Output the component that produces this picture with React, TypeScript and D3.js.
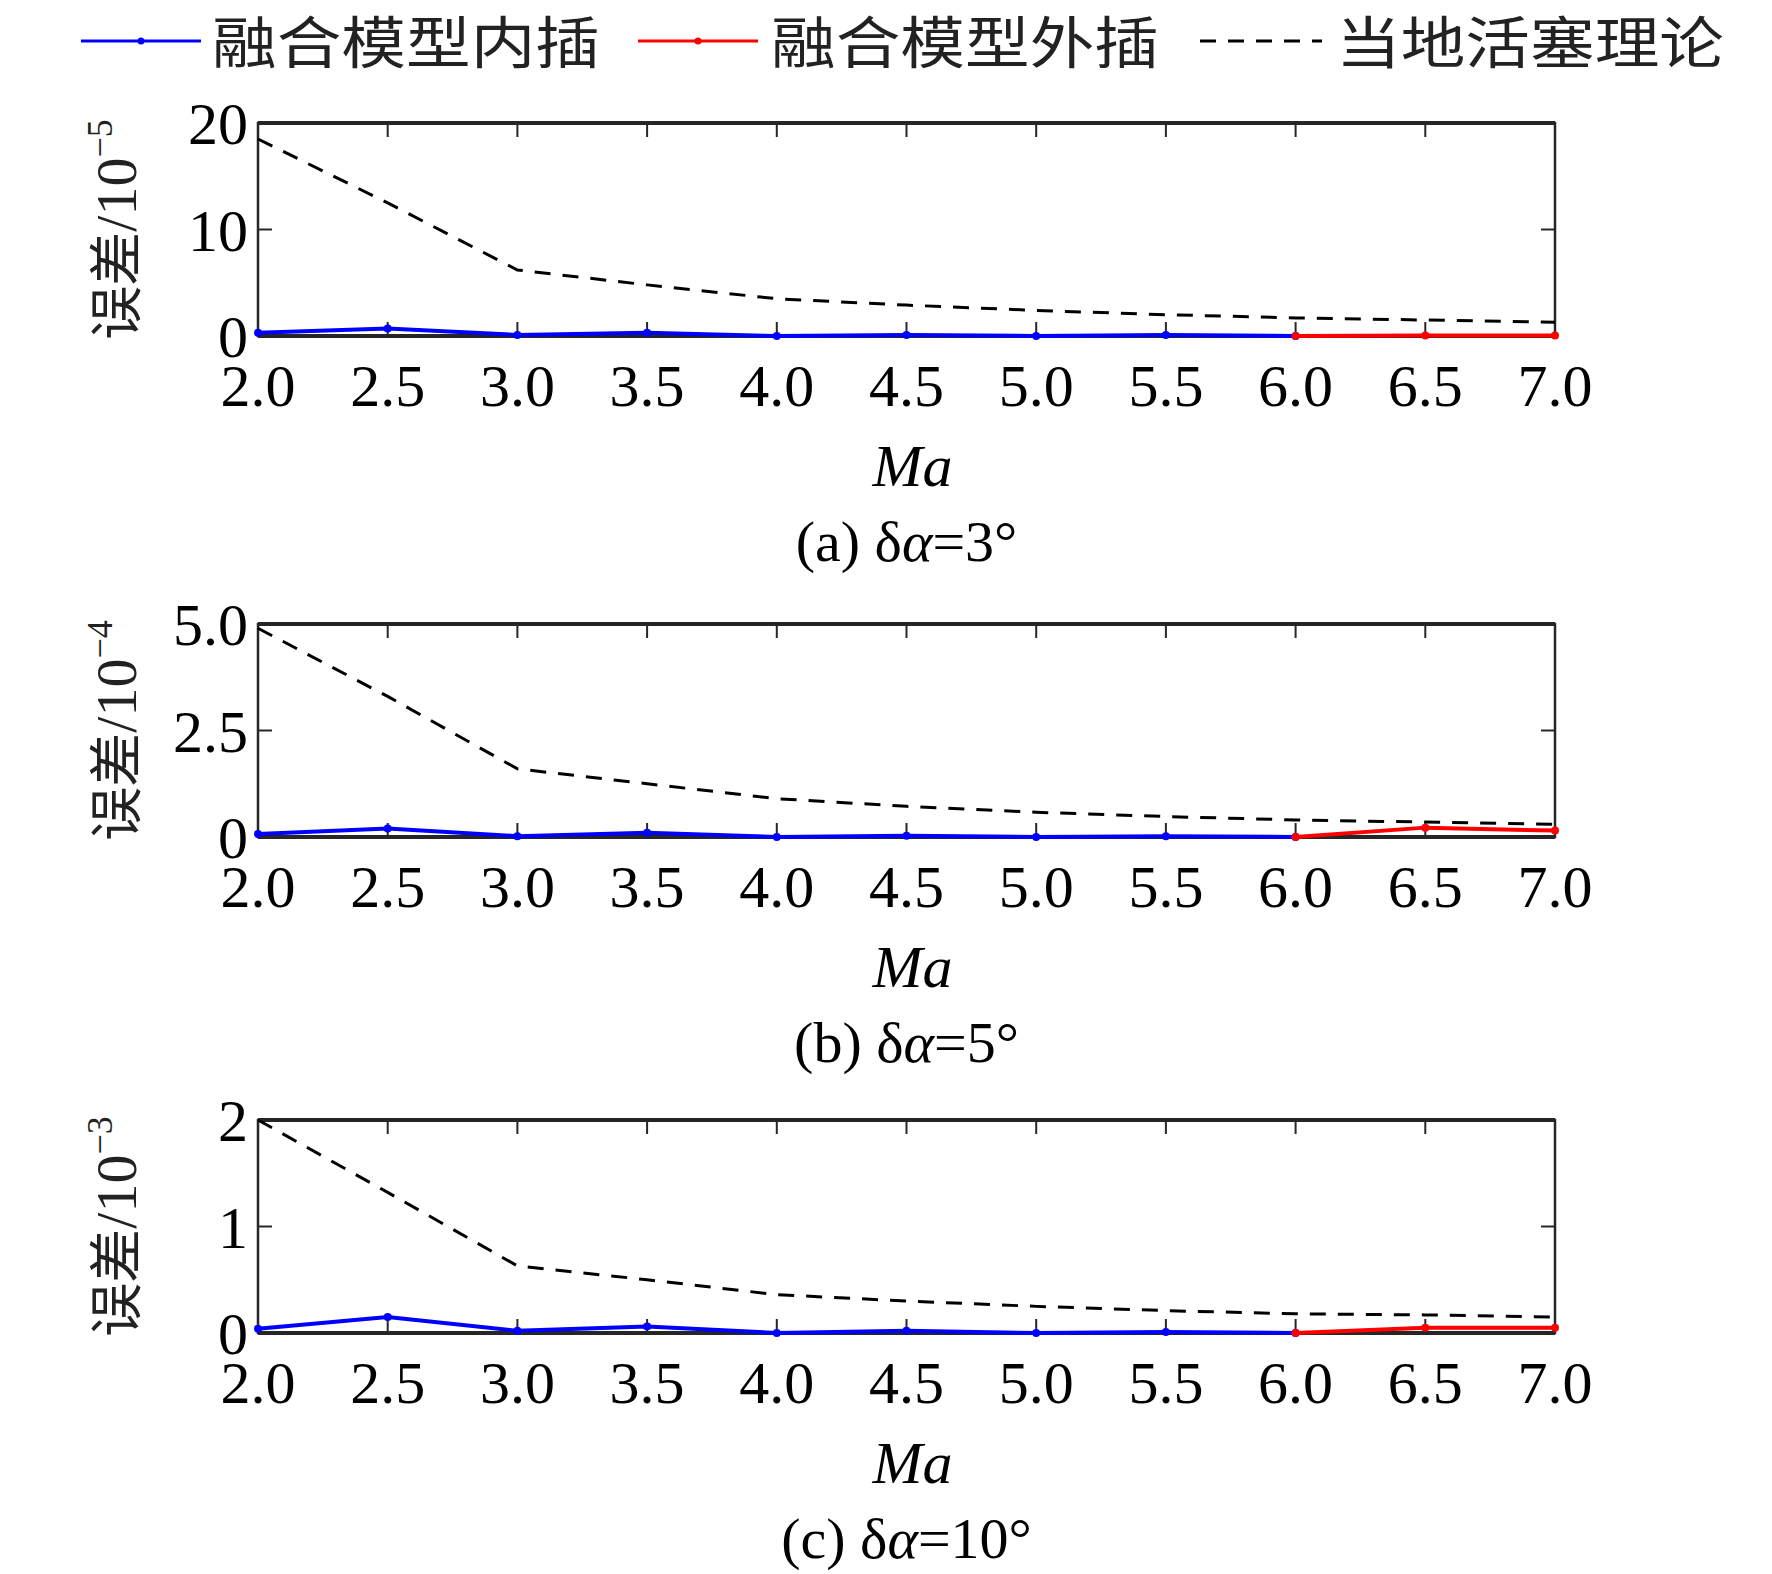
import React, { useEffect, useRef } from 'react';
import * as d3 from 'd3';

const ma = [2.0, 2.5, 3.0, 3.5, 4.0, 4.5, 5.0, 5.5, 6.0, 6.5, 7.0];
const maInner = ma.slice(0, 9);
const maOuter = ma.slice(8);

// panel (a): error / 1e-5
const pistonA = [18.5, 12.5, 6.2, 4.8, 3.5, 2.9, 2.4, 2.0, 1.7, 1.5, 1.3];
const innerA = [0.3, 0.7, 0.1, 0.3, 0.0, 0.1, 0.0, 0.1, 0.0];
const outerA = [0.0, 0.05, 0.05];
// panel (b): error / 1e-4
const pistonB = [4.9, 3.3, 1.6, 1.25, 0.9, 0.72, 0.58, 0.48, 0.4, 0.35, 0.3];
const innerB = [0.07, 0.2, 0.02, 0.1, 0.0, 0.03, 0.0, 0.02, 0.0];
const outerB = [0.0, 0.22, 0.15];
// panel (c): error / 1e-3
const pistonC = [2.0, 1.32, 0.63, 0.5, 0.36, 0.3, 0.25, 0.21, 0.18, 0.17, 0.15];
const innerC = [0.04, 0.15, 0.02, 0.06, 0.0, 0.02, 0.0, 0.01, 0.0];
const outerC = [0.0, 0.05, 0.05];

const panels = [
  { top: 115, yMax: 20, yTicks: [0, 10, 20], fmt: (d: number) => d.toFixed(0), exp: '−5', caption: 'a', angle: '3', piston: pistonA, inner: innerA, outer: outerA },
  { top: 616, yMax: 5, yTicks: [0, 2.5, 5], fmt: (d: number) => (d === 0 ? '0' : d.toFixed(1)), exp: '−4', caption: 'b', angle: '5', piston: pistonB, inner: innerB, outer: outerB },
  { top: 1112, yMax: 2, yTicks: [0, 1, 2], fmt: (d: number) => d.toFixed(0), exp: '−3', caption: 'c', angle: '10', piston: pistonC, inner: innerC, outer: outerC },
];

const W = 1772;
const H = 1574;
const left = 250;
const right = 1547;
const ph = 213;
const serif = '"Liberation Serif", "Times New Roman", serif';
const cjk = '"Noto Sans CJK SC", sans-serif';

const App: React.FC = () => {
  const ref = useRef<SVGSVGElement>(null);

  useEffect(() => {
    if (!ref.current) return;
    const svg = d3.select(ref.current);
    svg.selectAll('*').remove();

    const x = d3.scaleLinear().domain([2, 7]).range([left, right]);

    // legend
    const legend = [
      { x0: 73, x1: 193, tx: 204, color: '#0000ff', dash: null, label: '融合模型内插', dot: true },
      { x0: 630, x1: 750, tx: 763, color: '#ff0000', dash: null, label: '融合模型外插', dot: true },
      { x0: 1192, x1: 1314, tx: 1328, color: '#000', dash: '16,12', label: '当地活塞理论', dot: false },
    ];
    legend.forEach(l => {
      svg.append('line').attr('x1', l.x0).attr('x2', l.x1).attr('y1', 33).attr('y2', 33)
        .attr('stroke', l.color).attr('stroke-width', 3).attr('stroke-dasharray', l.dash);
      if (l.dot) svg.append('circle').attr('cx', (l.x0 + l.x1) / 2).attr('cy', 33).attr('r', 3.5).attr('fill', l.color);
      svg.append('text').attr('x', l.tx).attr('y', 55).attr('font-family', cjk).attr('font-size', 56)
        .attr('textLength', 388).attr('lengthAdjust', 'spacingAndGlyphs').attr('fill', '#222').text(l.label);
    });

    panels.forEach(p => {
      const y = d3.scaleLinear().domain([0, p.yMax]).range([p.top + ph, p.top]);
      const g = svg.append('g');

      // ticks inward
      ma.forEach(m => {
        g.append('line').attr('x1', x(m)).attr('x2', x(m)).attr('y1', p.top).attr('y2', p.top + 14).attr('stroke', '#262626').attr('stroke-width', 2);
        g.append('line').attr('x1', x(m)).attr('x2', x(m)).attr('y1', p.top + ph).attr('y2', p.top + ph - 14).attr('stroke', '#262626').attr('stroke-width', 2);
        g.append('text').attr('x', x(m)).attr('y', p.top + ph + 70).attr('text-anchor', 'middle')
          .attr('font-family', serif).attr('font-size', 60).attr('fill', '#000').text(m.toFixed(1));
      });
      p.yTicks.forEach(t => {
        g.append('line').attr('x1', left).attr('x2', left + 14).attr('y1', y(t)).attr('y2', y(t)).attr('stroke', '#262626').attr('stroke-width', 2);
        g.append('line').attr('x1', right).attr('x2', right - 14).attr('y1', y(t)).attr('y2', y(t)).attr('stroke', '#262626').attr('stroke-width', 2);
        g.append('text').attr('x', left - 10).attr('y', y(t) + 21).attr('text-anchor', 'end')
          .attr('font-family', serif).attr('font-size', 60).attr('fill', '#000').text(p.fmt(t));
      });

      // box
      g.append('rect').attr('x', left).attr('y', p.top).attr('width', right - left).attr('height', ph)
        .attr('fill', 'none').attr('stroke', '#262626').attr('stroke-width', 2.5);
      g.append('line').attr('x1', left).attr('x2', right).attr('y1', p.top).attr('y2', p.top).attr('stroke', '#262626').attr('stroke-width', 4);
      g.append('line').attr('x1', left).attr('x2', right).attr('y1', p.top + ph).attr('y2', p.top + ph).attr('stroke', '#262626').attr('stroke-width', 4);

      const line = d3.line<[number, number]>().x(d => x(d[0])).y(d => y(d[1]));

      g.append('path').datum(ma.map((m, i) => [m, p.piston[i]] as [number, number]))
        .attr('d', line).attr('fill', 'none').attr('stroke', '#000').attr('stroke-width', 3).attr('stroke-dasharray', '16,12');

      const series = [
        { xs: maInner, ys: p.inner, color: '#0000ff' },
        { xs: maOuter, ys: p.outer, color: '#ff0000' },
      ];
      series.forEach(s => {
        const pts = s.xs.map((m, i) => [m, s.ys[i]] as [number, number]);
        g.append('path').datum(pts).attr('d', line).attr('fill', 'none').attr('stroke', s.color).attr('stroke-width', 4);
        pts.forEach(d => g.append('circle').attr('cx', x(d[0])).attr('cy', y(d[1])).attr('r', 4).attr('fill', s.color));
      });

      // y label
      const cy = p.top + ph / 2;
      const yl = g.append('text').attr('transform', `translate(128,${cy}) rotate(-90)`).attr('text-anchor', 'middle')
        .attr('font-family', cjk).attr('font-size', 54).attr('fill', '#222');
      yl.append('tspan').text('误差');
      yl.append('tspan').attr('font-family', serif).attr('font-size', 58).text('/10');
      yl.append('tspan').attr('font-family', serif).attr('font-size', 36).attr('dy', -24).text(p.exp);

      // x label and caption
      g.append('text').attr('x', (left + right) / 2 + 6).attr('y', p.top + ph + 150).attr('text-anchor', 'middle')
        .attr('font-family', serif).attr('font-style', 'italic').attr('font-size', 60).attr('fill', '#000').text('Ma');
      const cap = g.append('text').attr('x', (left + right) / 2).attr('y', p.top + ph + 225).attr('text-anchor', 'middle')
        .attr('font-family', serif).attr('font-size', 58).attr('fill', '#000');
      cap.append('tspan').text(`(${p.caption}) δ`);
      cap.append('tspan').attr('font-style', 'italic').text('α');
      cap.append('tspan').text(`=${p.angle}°`);
    });
  }, []);

  return <svg ref={ref} width={W} height={H} style={{ display: 'block', background: '#fff' }} />;
};

export default App;
